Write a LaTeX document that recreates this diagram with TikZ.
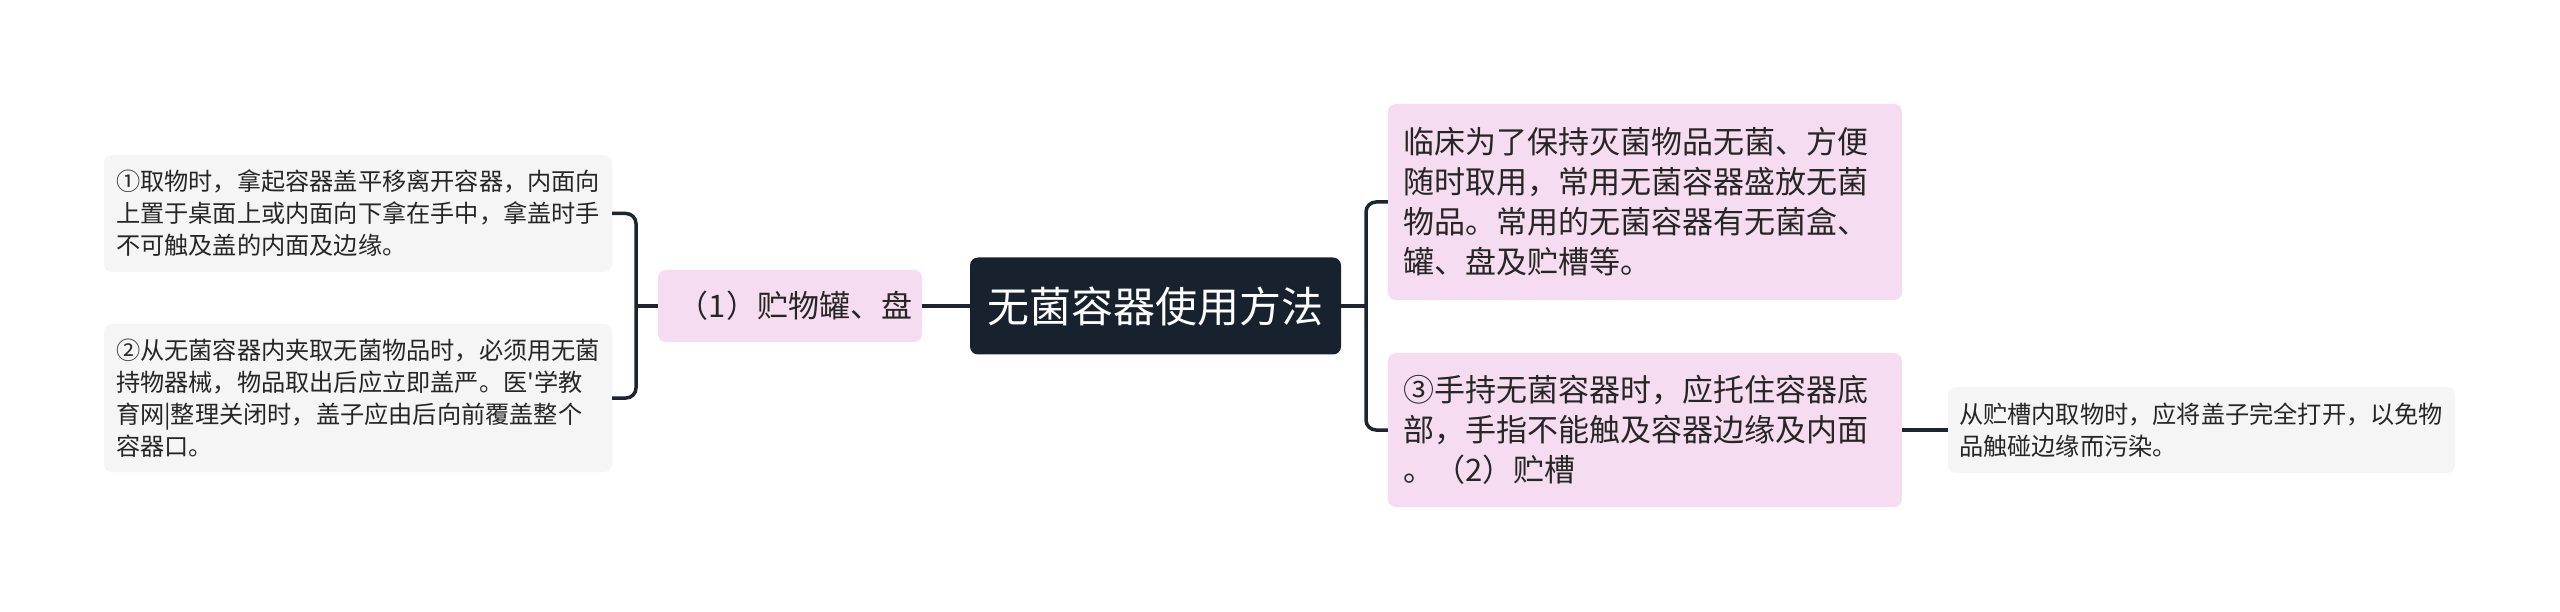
\documentclass[tikz,border=0pt]{standalone}
\usepackage{fontspec}
\setmainfont{Noto Sans CJK SC}[Ligatures=TeXOff]
\definecolor{rootfill}{HTML}{18222F}
\definecolor{pinkfill}{HTML}{F6DCF0}
\definecolor{grayfill}{HTML}{F5F5F5}
\definecolor{linkcol}{HTML}{1C2430}
\definecolor{textcol}{HTML}{262626}

\tikzset{
  rootbox/.style={fill=rootfill,text=white,rounded corners=8,inner sep=0,
    minimum width=371,minimum height=97,font=\fontsize{42}{50}\selectfont},
  branchbox/.style={fill=pinkfill,text=textcol,rounded corners=8,inner ysep=0,
    inner xsep=15,font=\fontsize{31}{40}\selectfont},
  leafbox/.style={fill=grayfill,text=textcol,rounded corners=8,inner ysep=0,
    inner xsep=12,font=\fontsize{24.2}{32}\selectfont},
  link/.style={draw=linkcol,line width=3.5pt,rounded corners=10},
}

\begin{document}
\begin{tikzpicture}[x=1pt,y=-1pt]
  \useasboundingbox[fill=white] (0,0) rectangle (2560,612);
  % root
  \node[rootbox] (root) at (1155.5,306) {无菌容器使用方法};
  % left side
  \node[branchbox,minimum width=264,minimum height=72,inner xsep=0,text width=264,align=center]
    (jar) at (790,306) {\hspace*{10pt}（1）贮物罐、盘};
  \node[leafbox,text width=484,minimum height=117,align=left] (take) at (358,213.5)
    {①取物时，拿起容器盖平移离开容器，内面向\\上置于桌面上或内面向下拿在手中，拿盖时手\\不可触及盖的内面及边缘。};
  \node[leafbox,text width=484,minimum height=148,align=left] (clip) at (358,398)
    {②从无菌容器内夹取无菌物品时，必须用无菌\\持物器械，物品取出后应立即盖严。医'学教\\育网|整理关闭时，盖子应由后向前覆盖整个\\容器口。};
  % right side
  \node[branchbox,text width=484,minimum height=196,align=left] (intro) at (1645,202)
    {临床为了保持灭菌物品无菌、方便\\随时取用，常用无菌容器盛放无菌\\物品。常用的无菌容器有无菌盒、\\罐、盘及贮槽等。};
  \node[branchbox,text width=484,minimum height=154,align=left] (hold) at (1645,430)
    {③手持无菌容器时，应托住容器底\\部，手指不能触及容器边缘及内面\\。（2）贮槽};
  \node[leafbox,text width=485,minimum height=86,inner xsep=11,align=left] (tank) at (2201.5,430)
    {从贮槽内取物时，应将盖子完全打开，以免物\\品触碰边缘而污染。};

  \coordinate (lb) at (636,306);
  \coordinate (rb) at (1366,306);
  \draw[link] (root.west) -- (jar.east);
  \draw[link] (jar.west) -- (lb);
  \draw[link] (take.east) -| (lb) |- (clip.east);
  \draw[link] (root.east) -- (rb);
  \draw[link] (intro.west) -| (rb) |- (hold.west);
  \draw[link] (hold.east) -- (tank.west);
\end{tikzpicture}
\end{document}
